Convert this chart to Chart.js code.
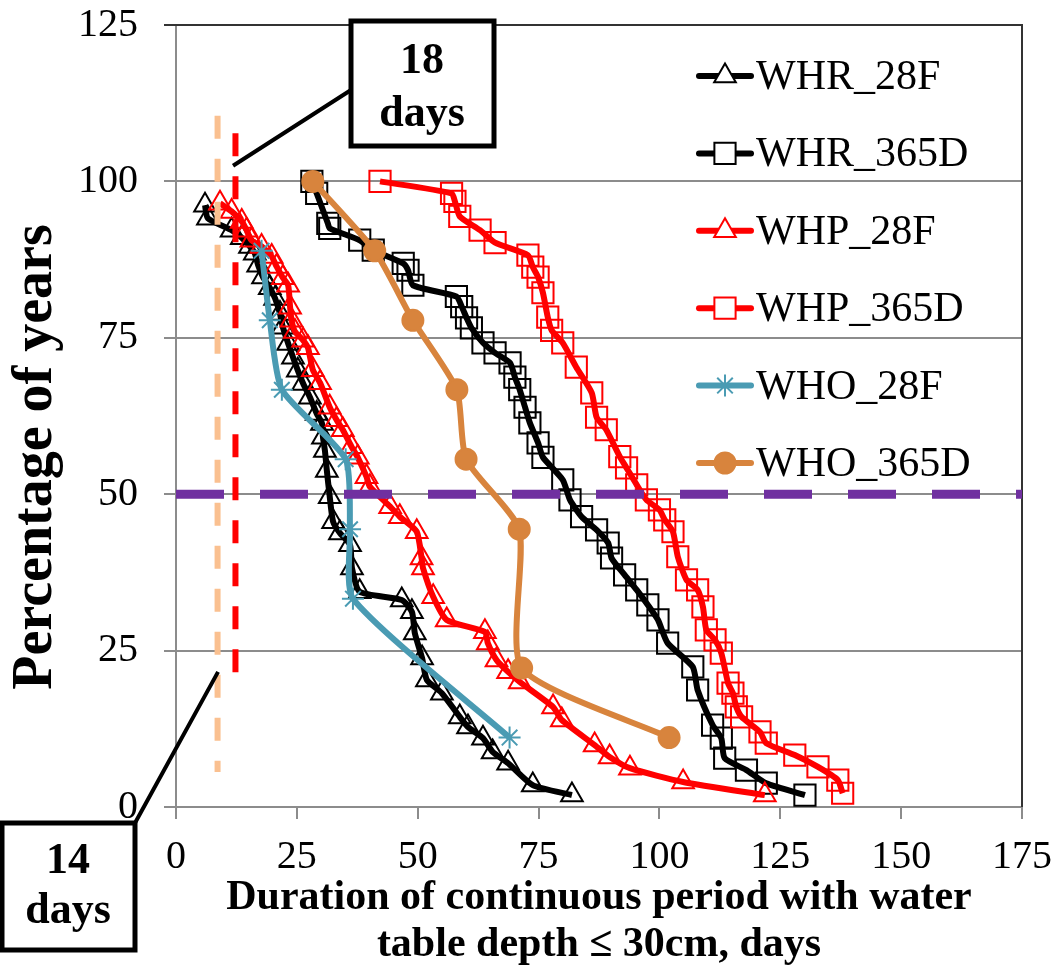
<!DOCTYPE html>
<html>
<head>
<meta charset="utf-8">
<script src="https://cdn.jsdelivr.net/npm/chart.js@4"></script>
<style>
    html, body { margin: 0; padding: 0; background: #fff; }
    #wrap { width: 1056px; height: 970px; }
</style>
</head>
<body>
<div id="wrap"><canvas id="durationChart" width="1056" height="970"></canvas></div>
<script>
// values: duration (days) vs percentage of years
const whr28fDays = [6.0, 6.6, 11.5, 13.6, 15.3, 16.3, 17.0, 18.0, 19.4, 20.5, 21.5, 22.1, 23.2, 24.2, 25.2, 26.3, 27.7, 29.1, 30.2, 30.4, 30.8, 31.2, 31.8, 32.5, 33.9, 36.0, 36.4, 38.0, 46.7, 48.8, 49.4, 50.9, 51.9, 55.0, 58.7, 60.4, 63.5, 65.5, 68.7, 73.8, 81.9];
const whr28fPct  = [96.2, 94.1, 92.2, 91.0, 89.6, 88.5, 86.6, 84.7, 83.0, 81.3, 78.9, 76.7, 74.1, 71.9, 69.8, 67.7, 65.5, 62.9, 61.3, 59.1, 57.0, 53.8, 49.6, 45.6, 43.8, 41.9, 38.2, 34.4, 33.1, 31.2, 27.8, 23.8, 20.3, 18.2, 14.4, 12.8, 11.0, 8.8, 7.0, 3.5, 1.9];

const whr365dDays = [28.1, 29.1, 31.4, 31.8, 38.0, 40.8, 47.0, 48.0, 49.0, 58.0, 59.1, 60.1, 61.1, 63.5, 66.0, 69.1, 70.1, 71.1, 72.2, 73.2, 74.9, 75.9, 80.0, 81.5, 83.9, 87.0, 89.4, 90.1, 92.8, 95.3, 97.6, 99.7, 101.7, 106.9, 107.9, 111.0, 112.8, 113.5, 118.0, 122.1, 130.1];
const whr365dPct  = [100, 98.1, 93.3, 92.5, 90.6, 89.0, 86.9, 85.8, 83.4, 81.6, 80.0, 78.2, 76.6, 74.2, 72.6, 71.0, 68.7, 66.7, 63.9, 61.4, 58.2, 55.9, 52.3, 49.1, 46.4, 44.3, 42.2, 39.8, 37.1, 34.7, 32.3, 29.9, 26.2, 22.4, 18.7, 13.1, 11.0, 7.8, 5.9, 3.8, 1.9];

const whp28fDays = [9.1, 11.5, 13.6, 14.6, 15.6, 17.7, 19.8, 20.8, 22.1, 23.2, 23.6, 23.9, 24.6, 26.3, 27.3, 28.3, 29.8, 31.8, 33.2, 34.5, 36.3, 37.6, 39.4, 40.1, 44.3, 46.3, 49.8, 50.8, 51.1, 53.2, 56.0, 63.9, 64.5, 66.3, 68.7, 71.1, 78.0, 79.8, 86.6, 89.7, 93.9, 104.9, 121.8];
const whp28fPct  = [96.5, 95.2, 93.6, 92.2, 90.6, 89.6, 88.0, 86.4, 84.6, 83.4, 79.9, 77.8, 76.0, 74.6, 73.4, 69.9, 67.8, 63.9, 61.9, 60.3, 57.6, 55.9, 52.8, 51.2, 48.0, 46.4, 44.0, 39.8, 38.2, 33.6, 29.9, 28.0, 26.2, 23.5, 21.6, 20.0, 16.0, 13.9, 9.9, 8.0, 6.2, 4.0, 1.9];

const whp365dDays = [42.2, 57.0, 57.7, 58.7, 62.9, 66.0, 72.8, 73.8, 74.9, 75.9, 76.9, 77.7, 80.0, 82.8, 86.0, 87.0, 89.0, 91.8, 93.2, 95.3, 97.3, 100.0, 101.1, 102.8, 103.8, 105.6, 107.9, 109.0, 109.7, 111.5, 112.8, 114.2, 115.2, 115.9, 117.0, 120.8, 122.1, 128.0, 132.8, 136.9, 137.9];
const whp365dPct  = [100, 98.1, 96.8, 94.4, 92.2, 90.2, 88.2, 86.3, 84.7, 82.2, 78.3, 76.2, 74.2, 70.3, 66.2, 62.3, 60.3, 56.0, 54.2, 51.5, 49.1, 47.5, 45.9, 44.0, 40.0, 36.3, 34.7, 32.0, 28.3, 26.7, 24.6, 19.8, 18.2, 16.0, 14.4, 12.0, 10.2, 8.3, 6.4, 4.3, 2.2];

const who28fDays = [17.7, 19.4, 21.9, 35.1, 36.0, 36.6, 69.0];
const who28fPct  = [88.9, 77.8, 66.7, 55.6, 44.4, 33.3, 11.1];

const who365dDays = [28.3, 41.1, 49.0, 58.1, 60.0, 71.0, 71.5, 102.0];
const who365dPct  = [100, 88.9, 77.8, 66.7, 55.6, 44.4, 22.2, 11.1];

// reference lines: 50 % of years, 14-day and 18-day markers
const medianLineDays = [0, 175];
const medianLinePct = [50, 50];
const day14LineDays = [8.6, 8.6];
const day14LinePct = [110.5, 5.6];
const day18LineDays = [12.3, 12.3];
const day18LinePct = [107.7, 18.4];

const seriesNames = ["WHR_28F", "WHR_365D", "WHP_28F", "WHP_365D", "WHO_28F", "WHO_365D"];
const xTickValues = [0, 25, 50, 75, 100, 125, 150, 175];
const yTickValues = [0, 25, 50, 75, 100, 125];

const SERIF = "'Liberation Serif', 'Times New Roman', serif";
const GRID = "#8c8c8c";

function pts(xs, ys) {
    return xs.map((x, i) => ({ x: x, y: ys[i] }));
}

function series(name, xs, ys, color, style, radius, order) {
    return {
        label: name,
        data: pts(xs, ys),
        borderColor: color,
        backgroundColor: color,
        borderWidth: 6,
        tension: 0.2,
        pointStyle: style,
        pointRadius: radius,
        pointBorderWidth: 2,
        pointBorderColor: color,
        pointBackgroundColor: style === "circle" ? color : "rgba(0,0,0,0)",
        order: order
    };
}

function refLine(xs, ys, color, width, dash) {
    return {
        label: "",
        isRef: true,
        data: pts(xs, ys),
        borderColor: color,
        borderWidth: width,
        borderDash: dash,
        borderCapStyle: "butt",
        pointRadius: 0,
        tension: 0,
        order: 0
    };
}

const datasets = [
    series(seriesNames[0], whr28fDays, whr28fPct, "#000000", "triangle", 12.5, 6),
    series(seriesNames[1], whr365dDays, whr365dPct, "#000000", "rect", 15, 5),
    series(seriesNames[2], whp28fDays, whp28fPct, "#ff0000", "triangle", 12.5, 4),
    series(seriesNames[3], whp365dDays, whp365dPct, "#ff0000", "rect", 15, 3),
    series(seriesNames[4], who28fDays, who28fPct, "#4a9bb3", "star", 11, 2),
    series(seriesNames[5], who365dDays, who365dPct, "#d8843d", "circle", 10.5, 1),
    refLine(medianLineDays, medianLinePct, "#7030a0", 9, [48, 36]),
    refLine(day14LineDays, day14LinePct, "#fac090", 6, [23, 20]),
    refLine(day18LineDays, day18LinePct, "#ff0000", 6, [23, 20])
];

// drop the label overhang padding so the plot area sits where the original has it
function noScalePadding(s) {
    s.paddingTop = 0;
    s.paddingBottom = 0;
    s.paddingLeft = 0;
    s.paddingRight = 0;
}

// plot frame on top and right side
const framePlugin = {
    id: "frame",
    beforeDatasetsDraw(chart) {
        const { ctx, chartArea: a } = chart;
        ctx.save();
        ctx.strokeStyle = "#333";
        ctx.lineWidth = 2;
        ctx.beginPath();
        ctx.moveTo(a.left - 12, a.top);
        ctx.lineTo(a.right, a.top);
        ctx.lineTo(a.right, a.bottom);
        ctx.stroke();
        ctx.restore();
    }
};

// legend with line + marker, like the spreadsheet one
const legendPlugin = {
    id: "lineLegend",
    afterDraw(chart) {
        const { ctx } = chart;
        ctx.save();
        chart.data.datasets.forEach((ds, i) => {
            if (ds.isRef) return;
            const y = 76 + i * 77.4;
            ctx.strokeStyle = ds.borderColor;
            ctx.lineWidth = 6;
            ctx.lineCap = "round";
            ctx.beginPath();
            ctx.moveTo(699, y);
            ctx.lineTo(751, y);
            ctx.stroke();
            ctx.lineCap = "butt";
            ctx.fillStyle = ds.pointStyle === "circle" ? ds.borderColor : "#fff";
            ctx.strokeStyle = ds.borderColor;
            ctx.lineWidth = 2;
            Chart.helpers.drawPoint(ctx, {
                pointStyle: ds.pointStyle,
                radius: ds.pointRadius,
                borderWidth: 2,
                rotation: 0
            }, 725, y);
            ctx.fillStyle = "#000";
            ctx.font = "42px " + SERIF;
            ctx.textAlign = "left";
            ctx.textBaseline = "middle";
            ctx.fillText(ds.label, 756, y + 2);
        });
        ctx.restore();
    }
};

// y title drawn by hand so it can sit where the original has it
const yTitlePlugin = {
    id: "yTitle",
    afterDraw(chart) {
        const { ctx } = chart;
        ctx.save();
        ctx.translate(37, 457);
        ctx.rotate(-Math.PI / 2);
        ctx.font = "bold 56px " + SERIF;
        ctx.fillStyle = "#000";
        ctx.textAlign = "center";
        ctx.textBaseline = "middle";
        ctx.fillText("Percentage of years", 0, 0);
        ctx.restore();
    }
};

// "14 days" / "18 days" callouts
const calloutPlugin = {
    id: "callouts",
    afterDraw(chart) {
        const { ctx, scales: { x, y } } = chart;
        ctx.save();
        ctx.strokeStyle = "#000";
        ctx.lineWidth = 4;
        ctx.beginPath();
        ctx.moveTo(x.getPixelForValue(11.8), y.getPixelForValue(102.5));
        ctx.lineTo(351, 90);
        ctx.moveTo(x.getPixelForValue(8.7), y.getPixelForValue(21.6));
        ctx.lineTo(135, 823);
        ctx.stroke();

        const boxes = [
            { l: 351, t: 21, w: 143, h: 125, top: "18", cx: 422, y1: 73, y2: 126 },
            { l: 2, t: 823, w: 133, h: 127, top: "14", cx: 68, y1: 873, y2: 923 }
        ];
        boxes.forEach(b => {
            ctx.fillStyle = "#fff";
            ctx.fillRect(b.l, b.t, b.w, b.h);
            ctx.lineWidth = 5;
            ctx.strokeRect(b.l, b.t, b.w, b.h);
            ctx.fillStyle = "#000";
            ctx.font = "bold 44px " + SERIF;
            ctx.textAlign = "center";
            ctx.textBaseline = "alphabetic";
            ctx.fillText(b.top, b.cx, b.y1);
            ctx.fillText("days", b.cx, b.y2);
        });
        ctx.restore();
    }
};

Chart.defaults.font.family = SERIF;
Chart.defaults.color = "#000";

new Chart(document.getElementById("durationChart"), {
    type: "line",
    data: { datasets: datasets },
    options: {
        responsive: false,
        animation: false,
        layout: { autoPadding: false, padding: { top: 25, right: 34, left: 0, bottom: 0 } },
        plugins: {
            legend: { display: false },
            tooltip: { enabled: false }
        },
        scales: {
            x: {
                type: "linear",
                min: 0,
                max: 175,
                afterFit: s => { s.height = 163; noScalePadding(s); },
                afterBuildTicks: s => { s.ticks = xTickValues.map(v => ({ value: v })); },
                ticks: { font: { size: 40 }, padding: 14, maxRotation: 0 },
                grid: { drawOnChartArea: false, color: GRID, lineWidth: 2, tickLength: 12 },
                border: { color: GRID, width: 2 },
                title: {
                    display: true,
                    text: ["Duration of continuous period with water", "table depth \u2264 30cm, days"],
                    font: { size: 42, weight: "bold", lineHeight: 1.12 },
                    padding: { top: 0, bottom: 1 }
                }
            },
            y: {
                type: "linear",
                min: 0,
                max: 125,
                afterFit: s => { s.width = 176; noScalePadding(s); },
                afterBuildTicks: s => { s.ticks = yTickValues.map(v => ({ value: v })); },
                ticks: { font: { size: 40 }, padding: 26 },
                grid: { color: GRID, lineWidth: 2, tickLength: 12 },
                border: { color: GRID, width: 2 }
            }
        }
    },
    plugins: [framePlugin, legendPlugin, yTitlePlugin, calloutPlugin]
});
</script>
</body>
</html>
